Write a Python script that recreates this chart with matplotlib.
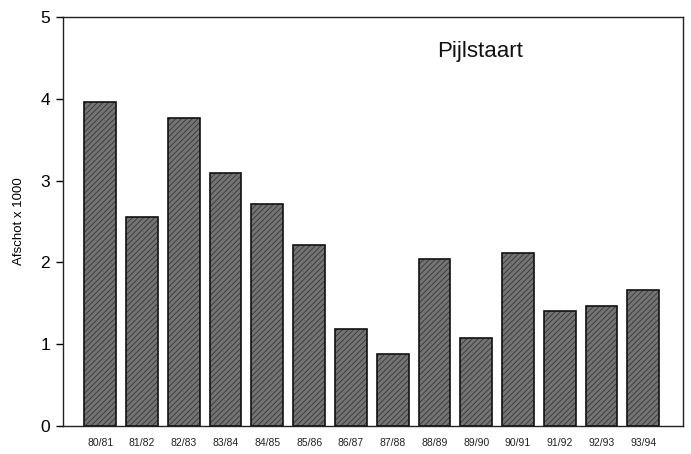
import numpy as np
import matplotlib
matplotlib.use("Agg")
import matplotlib.pyplot as plt

plt.rcParams["font.family"] = ["Liberation Sans", "DejaVu Sans"]
plt.rcParams["hatch.linewidth"] = 0.6

# Seasons and shot numbers (x 1000)
seasons = ["80/81", "81/82", "82/83", "83/84", "84/85", "85/86", "86/87",
           "87/88", "88/89", "89/90", "90/91", "91/92", "92/93", "93/94"]
afschot = [3.96, 2.55, 3.77, 3.09, 2.71, 2.21, 1.19,
           0.88, 2.04, 1.08, 2.11, 1.41, 1.47, 1.66]

fig = plt.figure(figsize=(6.91, 4.54), dpi=100)
ax = fig.add_axes([0.0907, 0.0617, 0.8977, 0.9009])

x = np.arange(len(seasons))
# hatched grey fill, then a black outline on top
ax.bar(x, afschot, width=0.76, color="#747474", edgecolor="#363636",
       hatch="//////", linewidth=0)
ax.bar(x, afschot, width=0.76, fill=False, edgecolor="#111111", linewidth=1.2)

ax.set_xlim(-0.9, 13.95)
ax.set_ylim(0, 5)
ax.set_yticks([0, 1, 2, 3, 4, 5])
ax.set_xticks(x)
ax.set_xticklabels(seasons, fontsize=7.5, color="#222222")
ax.tick_params(axis="x", length=0, pad=9)
ax.tick_params(axis="y", labelsize=12.5, length=5, width=1, direction="out", pad=4)
ax.set_ylabel("Afschot x 1000", fontsize=9.5, labelpad=11)

for s in ax.spines.values():
    s.set_linewidth(1.0)
    s.set_color("#222222")

ax.text(0.604, 0.915, "Pijlstaart", transform=ax.transAxes, fontsize=16,
        ha="left", va="center", color="#111111")

fig.savefig("out.png", dpi=100)
